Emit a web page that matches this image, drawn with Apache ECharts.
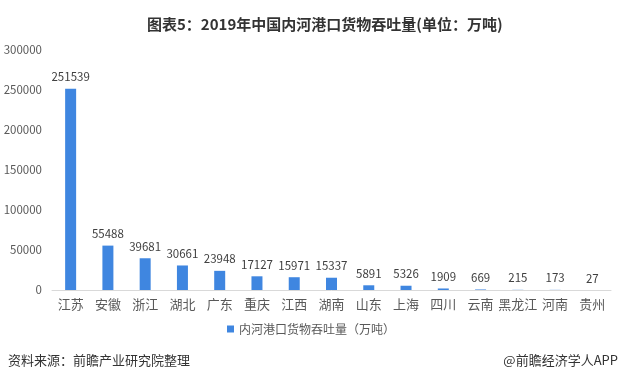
<!DOCTYPE html>
<html><head><meta charset="utf-8">
<script src="https://cdn.jsdelivr.net/npm/echarts@6/dist/echarts.min.js"></script>
<style>html,body{margin:0;padding:0;background:#fff}#c{width:622px;height:384px}</style>
</head><body><div id="c"></div>
<script>
const categories = ['江苏','安徽','浙江','湖北','广东','重庆','江西','湖南','山东','上海','四川','云南','黑龙江','河南','贵州'];
const values = [251539,55488,39681,30661,23948,17127,15971,15337,5891,5326,1909,669,215,173,27];
const seriesName = '内河港口货物吞吐量（万吨）';
const titleText = '图表5：2019年中国内河港口货物吞吐量(单位：万吨)';
const sourceText = '资料来源：前瞻产业研究院整理';
const brandText = '@前瞻经济学人APP';

const chart = echarts.init(document.getElementById('c'), null, {renderer:'canvas'});
const font = '"Microsoft YaHei","Noto Sans CJK SC",sans-serif';
chart.setOption({
  backgroundColor:'#fff',
  animation:false,
  title:{text:titleText,left:142,top:12,textStyle:{fontFamily:font,fontSize:15,fontWeight:'bold',color:'#333'}},
  graphic:[
    {type:'text',left:8,top:354,style:{text:sourceText,font:'13px '+font,fill:'#333'}},
    {type:'text',right:4,top:354,style:{text:brandText,font:'13px '+font,fill:'#333'}}
  ],
  legend:{bottom:44,left:'center',itemWidth:7,itemHeight:7,icon:'rect',itemGap:4,
    textStyle:{fontFamily:font,fontSize:12,color:'#595959'},data:[seriesName]},
  grid:{left:52,right:11,top:50,bottom:94},
  xAxis:{type:'category',data:categories,
    axisLine:{lineStyle:{color:'#d9d9d9'}},axisTick:{show:false},
    axisLabel:{fontFamily:font,fontSize:13,color:'#595959',margin:8,interval:0}},
  yAxis:{type:'value',min:0,max:300000,interval:50000,
    axisLine:{show:false},axisTick:{show:false},splitLine:{show:false},
    axisLabel:{fontFamily:font,fontSize:11.5,color:'#595959',margin:10,formatter:v=>String(v)}},
  series:[{name:seriesName,type:'bar',data:values,barWidth:11,
    itemStyle:{color:'#3F86E0'},
    label:{show:true,position:'top',distance:6,fontFamily:font,fontSize:11.5,color:'#404040'}}]
});
</script></body></html>
